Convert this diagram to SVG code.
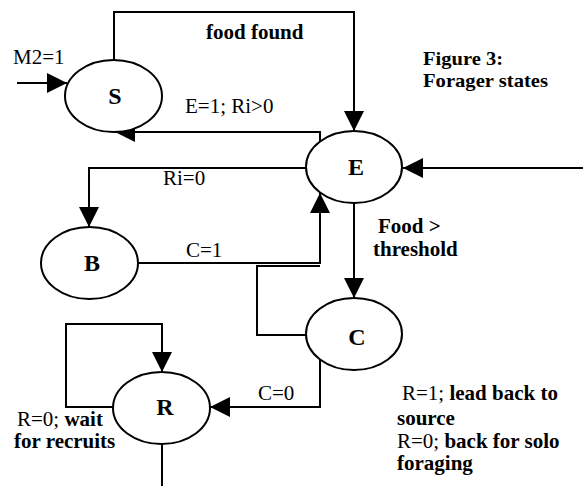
<svg xmlns="http://www.w3.org/2000/svg" width="583" height="486" viewBox="0 0 583 486">
<style>
.node{fill:#fff;stroke:#000;stroke-width:2}
.nl{font-size:24px;font-weight:bold;text-anchor:middle}
.conn{fill:none;stroke:#000;stroke-width:2}
.t{font-size:21px;fill:#000}
.b{font-weight:bold}
.cap{font-size:19px}
</style>
<defs>
<marker id="arr" viewBox="0 0 20 20" refX="20" refY="10" markerWidth="20" markerHeight="20" markerUnits="userSpaceOnUse" orient="auto">
<path d="M0,0 L20,10 L0,20 Z" fill="#000"/>
</marker>
</defs>
<rect width="583" height="486" fill="#fff"/>
<g id="connectors">
<path class="conn" d="M17,83 H67" marker-end="url(#arr)"/>
<path class="conn" d="M114,60 V12 H354 V131" marker-end="url(#arr)"/>
<path class="conn" d="M320,142 V132 H115" marker-end="url(#arr)"/>
<path class="conn" d="M306,168 H89 V227" marker-end="url(#arr)"/>
<path class="conn" d="M138,263 H320 V193" marker-end="url(#arr)"/>
<path class="conn" d="M306,335 H257 V266 H320"/>
<path class="conn" d="M354,203 V298" marker-end="url(#arr)"/>
<path class="conn" d="M320,360 V407 H210" marker-end="url(#arr)"/>
<path class="conn" d="M113,407 H66 V324 H162 V372" marker-end="url(#arr)"/>
<path class="conn" d="M162,444 V486"/>
<path class="conn" d="M583,168 H403" marker-end="url(#arr)"/>
</g>
<g font-family="Liberation Serif, DejaVu Serif, serif">
<g id="S"><ellipse class="node" cx="113.5" cy="96" rx="48.5" ry="36"/><text class="nl" x="115" y="104">S</text></g>
<g id="E"><ellipse class="node" cx="354" cy="167" rx="48" ry="36"/><text class="nl" x="356" y="175">E</text></g>
<g id="B"><ellipse class="node" cx="89.5" cy="263" rx="48.5" ry="36"/><text class="nl" x="92" y="271">B</text></g>
<g id="C"><ellipse class="node" cx="354" cy="334" rx="48" ry="36"/><text class="nl" x="357" y="345">C</text></g>
<g id="R"><ellipse class="node" cx="161.5" cy="408" rx="48.5" ry="36"/><text class="nl" x="165" y="415">R</text></g>
<g id="labels">
<text class="t" x="13" y="64">M2=1</text>
<text class="t b" x="206" y="39">food found</text>
<text class="t b cap" x="423" y="65" textLength="80" lengthAdjust="spacingAndGlyphs">Figure 3:</text>
<text class="t b cap" x="423" y="87" textLength="125" lengthAdjust="spacingAndGlyphs">Forager states</text>
<text class="t" x="185" y="113">E=1; Ri&gt;0</text>
<text class="t" x="163" y="185">Ri=0</text>
<text class="t" x="186" y="257">C=1</text>
<text class="t b" x="378" y="233">Food &gt;</text>
<text class="t b" x="373" y="256">threshold</text>
<text class="t" x="258" y="400">C=0</text>
<text class="t" x="17" y="426">R=0; <tspan class="b">wait</tspan></text>
<text class="t b" x="14" y="448">for recruits</text>
<text class="t" x="402" y="400">R=1; <tspan class="b">lead back to</tspan></text>
<text class="t b" x="397" y="425">source</text>
<text class="t" x="397" y="448">R=0; <tspan class="b">back for solo</tspan></text>
<text class="t b" x="397" y="470">foraging</text>
</g>
</g>
</svg>
